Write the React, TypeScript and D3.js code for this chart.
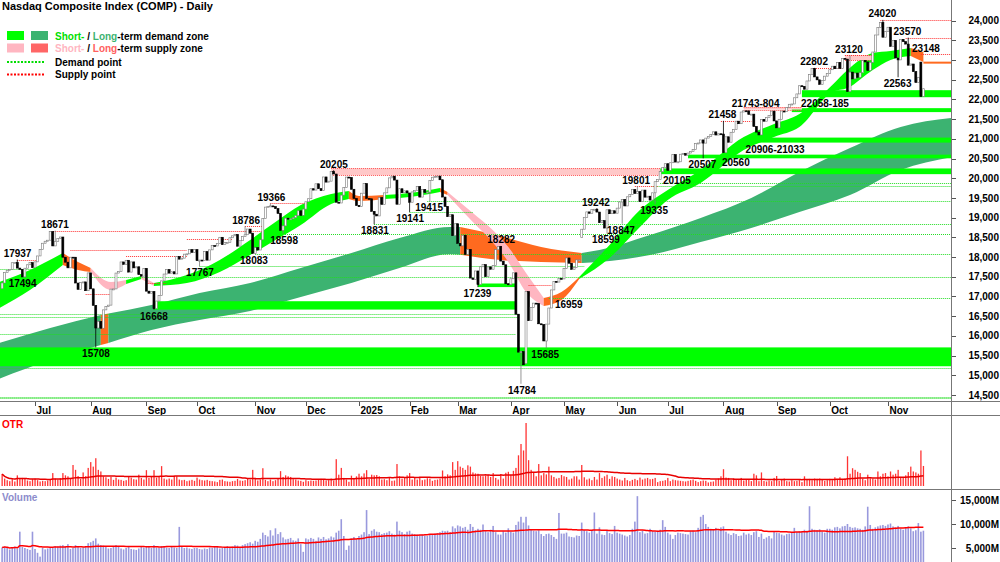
import React from 'react';
import * as d3 from 'd3';

// daily closes, 11 Jun 2024 .. 21 Nov 2025 (index 0 = 11 Jun 2024)
const closes: number[] = [
  17343, 17608, 17667, 17689, 17857, 17862, 17721, 17689, 17497, 17718, 17805, 17859, 17733,
  17879, 18029, 18188, 18352, 18403, 18429, 18647, 18283, 18398, 18473, 18510, 17997, 17871, 17727, 17998, 17997, 17342, 17182, 17358, 17370, 17147, 17599,
  17194, 16776, 16200, 16366, 16195, 16660, 16745, 16781, 17188, 17192, 17595, 17631, 17877, 17817, 17919, 17619, 17878, 17726, 17754, 17556, 17516, 17714,
  17136, 17084, 17128, 16691, 16885, 17026, 17396, 17570, 17684, 17593, 17628, 17573, 18014, 17948, 17974, 18075, 18082, 18190, 18120, 18189,
  17910, 17925, 17918, 18138, 17923, 18183, 18292, 18282, 18343, 18503, 18316, 18367, 18374, 18490, 18540, 18573, 18277, 18415, 18519, 18567, 18712, 18607, 18095,
  18239, 18180, 18439, 18983, 19269, 19287, 19299, 19282, 19231, 19108, 18680, 18792, 18988, 18966, 18972, 19004, 19055, 19175, 19060, 19218,
  19404, 19481, 19735, 19701, 19860, 19737, 19687, 20034, 19903, 19927, 20174, 20109, 19393, 19373, 19573, 19765, 20031, 20020, 19722, 19487, 19311,
  19280, 19622, 19865, 19490, 19479, 19162, 19088, 19044, 19511, 19339, 19630, 19757, 20010, 20054, 19955, 19342, 19734, 19633, 19681, 19627,
  19392, 19654, 19692, 19791, 19523, 19715, 19643, 19650, 19945, 20027, 20041, 20056, 19962, 19524, 19287, 19026, 19075, 18544, 18847,
  18350, 18285, 18553, 18070, 18196, 17468, 17436, 17648, 17303, 17754, 17808, 17504, 17751, 17692, 17784, 18189, 18272, 17899, 17804, 17323, 17299,
  17450, 17601, 16551, 15588, 15603, 15268, 17125, 16387, 16724, 16832, 16823, 16307, 16287, 15871, 16300, 16708, 17166, 17383, 17366, 17461, 17446,
  17711, 17978, 17844, 17690, 17738, 17929, 17929, 18708, 19010, 19147, 19112, 19211, 19215, 19143, 18873, 18926, 18737, 19200, 19101, 19176, 19114,
  19243, 19399, 19461, 19298, 19530, 19591, 19715, 19615, 19662, 19407, 19701, 19521, 19546, 19447, 19631, 19913, 19974, 20168, 20273, 20370,
  20203, 20394, 20601, 20412, 20418, 20611, 20630, 20586, 20641, 20678, 20730, 20885, 20896, 20974, 20893, 21020, 21058, 21108, 21179, 21098, 21130, 21122,
  20650, 21053, 20916, 21169, 21243, 21450, 21385, 21682, 21713, 21711, 21623, 21629, 21315, 21172, 21100, 21496, 21449, 21544, 21590, 21705, 21456,
  21280, 21498, 21707, 21700, 21799, 21879, 21886, 22043, 22141, 22349, 22333, 22261, 22470, 22631, 22789, 22573, 22498, 22385, 22484, 22592, 22660,
  22755, 22845, 22781, 22942, 22789, 23044, 23025, 22204, 22695, 22522, 22671, 22563, 22680, 22991, 22953, 22740, 22942, 23205, 23637, 23827, 23958, 23581, 23725,
  23834, 23349, 23500, 23054, 23005, 23527, 23469, 23406, 22871, 22901, 22708, 22432, 22564, 22078, 22273,
];
const firstOpen = 17200;
// [bar, open] where the session did not open at the prior close
const gapOpens: [number, number][] = [[363, 22950], [229, 18500], [207, 15300]];

// daily true range, points
const otr: number[] = [
  370, 230, 180, 150, 210, 140, 330, 220, 250, 240, 170, 150, 210,
  230, 180, 140, 160, 150, 170, 190, 400, 230, 200, 240, 400, 330, 300, 250, 650, 500, 310, 220, 420, 300, 560,
  740, 600, 860, 500, 450, 300, 270, 220, 280, 190, 260, 200, 190, 160, 180, 300, 260, 210, 200, 350, 250, 200,
  490, 250, 300, 490, 260, 280, 615, 230, 200, 230, 200, 320, 300, 200, 180, 190, 150, 170, 190, 160,
  260, 200, 180, 170, 190, 160, 150, 140, 120, 190, 200, 150, 140, 130, 150, 160, 220, 170, 160, 180, 220, 200, 500,
  250, 170, 200, 550, 190, 150, 200, 150, 180, 230, 460, 280, 330, 300, 280, 210, 200, 170, 160, 130,
  180, 150, 170, 160, 170, 210, 220, 200, 170, 180, 230, 170, 830, 350, 560, 250, 200, 130, 320, 250, 300,
  380, 300, 390, 490, 220, 350, 330, 340, 300, 200, 210, 180, 250, 160, 170, 680, 300, 230, 250, 330,
  400, 200, 250, 200, 280, 180, 200, 240, 230, 160, 190, 200, 230, 480, 300, 360, 330, 740, 500,
  770, 600, 560, 500, 640, 600, 420, 390, 380, 310, 300, 330, 350, 280, 400, 250, 200, 370, 230, 410, 440,
  340, 470, 560, 950, 1300, 1100, 1950, 800, 500, 420, 300, 680, 330, 400, 360, 600, 330, 280, 230, 250, 340,
  300, 280, 200, 230, 300, 300, 200, 650, 270, 200, 230, 180, 280, 200, 400, 250, 300, 350, 220, 300, 280,
  230, 200, 170, 250, 180, 150, 190, 220, 180, 260, 200, 230, 250, 210, 220, 250, 120, 150, 160, 180,
  250, 150, 200, 180, 170, 160, 150, 140, 160, 180, 200, 160, 120, 150, 170, 160, 110, 130, 140, 200, 230, 300,
  520, 260, 250, 180, 240, 200, 200, 250, 170, 200, 190, 150, 380, 330, 150, 420, 160, 140, 170, 150, 250,
  310, 160, 200, 230, 150, 140, 180, 150, 160, 180, 120, 300, 200, 220, 180, 230, 220, 230, 200, 160, 180,
  220, 180, 270, 200, 270, 200, 230, 920, 380, 550, 500, 440, 400, 230, 180, 350, 240, 230, 200, 450, 300, 380, 400,
  300, 450, 350, 380, 500, 280, 250, 330, 430, 600, 450, 420, 380, 1100, 620,
];

// volume, millions of shares
const volume: number[] = [
  5100, 5300, 5000, 4700, 5200, 5300, 4900, 8400, 5200, 5000, 4800, 4600, 8400,
  4800, 4000, 3200, 5000, 4700, 4900, 5100, 5200, 5400, 5300, 5500, 5600, 5400, 5800, 4800, 5000, 5600, 5400, 5000, 5100, 5300, 6000,
  6200, 6500, 7000, 5900, 5600, 5500, 5200, 4900, 5000, 5300, 5600, 5400, 4900, 4700, 5000, 5200, 4800, 4700, 4600, 4900, 5300, 5100,
  5400, 5200, 5000, 5600, 5100, 5000, 5400, 5200, 5100, 5000, 5200, 5100, 5000, 9400, 5200, 5000, 5100, 4900, 4800, 5000,
  5000, 4800, 4700, 4900, 4800, 5100, 5000, 5200, 5300, 4900, 5100, 5000, 5400, 5100, 5300, 5600, 5500, 5200, 5600, 5800, 6000, 6200, 5900,
  6500, 6300, 6900, 8200, 7700, 7400, 8700, 7600, 9100, 7900, 8300, 7200, 6800, 6900, 7100, 6600, 6500, 7000, 5800, 4200,
  7000, 6800, 7100, 6900, 6500, 7200, 6900, 7300, 6800, 7000, 7400, 7200, 8200, 8600, 11000, 7500, 4600, 5500, 7000, 7300, 6800,
  7500, 7800, 8300, 12900, 7900, 8600, 8900, 8400, 8300, 7900, 8100, 8200, 8500, 8000, 7800, 10500, 8600, 8300, 7900, 8400,
  8600, 8000, 7900, 7800, 7700, 7800, 7600, 7500, 7900, 7700, 8000, 8100, 8300, 8600, 8500, 8600, 8300, 9500, 9100,
  9700, 9500, 9200, 9400, 8800, 10000, 9400, 8700, 9000, 8800, 9900, 8500, 8300, 8800, 9600, 8300, 7800, 7800, 8500, 8200, 9100,
  8400, 8200, 9800, 10500, 11500, 10300, 11500, 9700, 8900, 8600, 8500, 8700, 7900, 7500, 7900, 8000, 7700, 7300, 6900, 12300, 8000,
  8000, 8200, 7400, 7300, 7200, 7600, 7500, 10300, 8700, 8500, 8200, 8600, 12400, 8000, 9300, 7800, 7700, 8600, 8100, 7900, 9600,
  8200, 8000, 7800, 7600, 7400, 7700, 9000, 10500, 15800, 8300, 8600, 8000, 8100, 9000, 8500, 8400, 8600, 8800, 10800, 9400,
  8200, 7800, 6900, 7700, 8200, 8100, 8000, 7900, 7800, 8500, 8600, 8300, 9200, 11500, 11900, 10000, 9400, 9000, 8800, 9200, 8700, 9300,
  9500, 8400, 8000, 7700, 8100, 7900, 7500, 7600, 8200, 7800, 8000, 7700, 8300, 8500, 7300, 8000, 6900, 7200, 7500, 7000, 8400,
  8200, 8100, 7800, 7600, 7900, 8000, 8200, 9200, 8300, 8500, 8400, 8800, 8600, 13700, 9000, 8800, 8700, 8900, 8400, 8200, 9000,
  9000, 8800, 9300, 9400, 9100, 9500, 9600, 10000, 9400, 9200, 9300, 9100, 9000, 8800, 9500, 13600, 9800, 9000, 9300, 9500, 9700, 9800, 9600,
  9900, 10100, 9500, 9300, 9600, 9000, 8800, 9200, 9500, 9100, 8500, 8700, 10200, 8400, 8600,
];

const monthLabels = ['Jul', 'Aug', 'Sep', 'Oct', 'Nov', 'Dec', '2025', 'Feb', 'Mar', 'Apr', 'May', 'Jun', 'Jul', 'Aug', 'Sep', 'Oct', 'Nov'];
const monthFirstBar = [13, 35, 57, 77, 100, 120, 141, 161, 180, 201, 222, 243, 263, 285, 306, 327, 350];
const priceTicks = [24000, 23500, 23000, 22500, 22000, 21500, 21000, 20500, 20000, 19500, 19000, 18500, 18000, 17500, 17000, 16500, 16000, 15500, 15000, 14500];
const volTicks = [15000, 10000, 5000];

// ribbons: [bar, upper, lower, state]  g = demand, p = short supply, o = supply
const shortRibbon: [number, number, number, string][] = [
  [-1, 17368, 16708, 'g'], [11, 17673, 17165, 'g'], [24, 18104, 17800, 'o'], [30, 17876, 17673, 'o'],
  [35, 17724, 17622, 'p'], [43, 17368, 17165, 'p'], [49, 17419, 17317, 'g'], [55, 17520, 17444, 'p'],
  [60, 17343, 17267, 'g'], [73, 17546, 17343, 'g'], [86, 17927, 17622, 'g'], [98, 18434, 18054, 'g'],
  [108, 18891, 18434, 'g'], [118, 19322, 18815, 'g'], [130, 19602, 19348, 'g'], [137, 19678, 19475, 'o'],
  [141, 19551, 19424, 'o'], [151, 19576, 19475, 'g'], [161, 19627, 19526, 'g'], [173, 19754, 19653, 'o'],
  [176, 19653, 19576, 'p'], [186, 19120, 18891, 'p'], [193, 18739, 18434, 'p'], [200, 18257, 17876, 'p'],
  [207, 17597, 17114, 'p'], [214, 16962, 16759, 'o'], [221, 17114, 16911, 'o'], [228, 17495, 17444, 'g'],
  [240, 18307, 17978, 'g'], [252, 19195, 18764, 'g'], [263, 19703, 19449, 'g'], [276, 20211, 19881, 'g'],
  [293, 21048, 20718, 'g'], [305, 21378, 21048, 'g'], [315, 21632, 21302, 'g'], [328, 22368, 22190, 'g'],
  [334, 22749, 22292, 'g'], [344, 23180, 22749, 'g'], [351, 23231, 23003, 'g'], [359, 23307, 23104, 'o'],
  [364, 23206, 22952, 'o'],
];
const longRibbon: [number, number, number, string][] = [
  [-1, 15820, 14916, 'g'], [19, 16200, 15388, 'g'], [39, 16531, 15769, 'o'], [42, 16570, 15820, 'g'],
  [59, 16784, 16150, 'g'], [78, 17089, 16404, 'g'], [98, 17343, 16632, 'g'], [118, 17724, 16988, 'g'],
  [138, 18104, 17343, 'g'], [157, 18485, 17724, 'g'], [177, 18764, 18079, 'g'], [181, 18764, 18060, 'o'],
  [197, 18536, 17927, 'o'], [213, 18257, 17876, 'o'], [229, 18104, 17851, 'g'], [236, 18180, 17876, 'g'],
  [256, 18561, 18054, 'g'], [276, 18993, 18384, 'g'], [296, 19500, 18739, 'g'], [315, 20160, 19145, 'g'],
  [335, 20769, 19576, 'g'], [355, 21302, 20211, 'g'], [375.3, 21530, 20541, 'g'],
];

const END = 375.3;
// [fromBar, toBar, low, high]
const demandZones: [number, number, number, number][] = [
  [-1, END, 15230, 15708], [60, 203, 16668, 16880], [188, 203, 17239, 17330], [260, END, 20105, 20250],
  [271, END, 20507, 20600], [299, END, 20906, 21033], [312, END, 21680, 21780], [316, END, 22058, 22236],
];
const supplyZones: [number, number, number, number][] = [
  [130, 260, 20080, 20250], [293, 316, 21743, 21804], [333, 344, 23000, 23120],
];
// [fromBar, toBar, price]
const demandPoints: [number, number, number][] = [
  [-1, END, 14420], [-1, END, 14455], [-1, END, 15180], [-1, 203, 16050], [-1, 204, 16480], [-1, 204, 16555],
  [-1, 13, 17700], [8, END, 17494], [78, 230, 17767], [100, END, 18083], [111, END, 18598], [147, END, 18831],
  [161, 186, 19141], [168, END, 19415], [216, END, 16959], [257, END, 19805], [260, END, 19880],
];
const supplyPoints: [number, number, number][] = [
  [6, 14, 17937], [20, 103, 18671], [27, 73, 18190], [49, 73, 18020], [33, 43, 17060], [57, 65, 17340],
  [73, 91, 18460], [96, 103, 18786], [106, 121, 19366], [208, 217, 17290], [250, 259, 19801], [284, 296, 21458],
  [320, 332, 22802], [333, 345, 23120], [347, END, 24020], [357, END, 23570], [363, END, 23148],
];
const supplyProjection: [number, number, number] = [364, END, 22935];

// [bar, price, text, placement]  a = above, b = below, r = right
const labels: [number, number, string, string][] = [
  [6.1, 17937, '17937', 'a'], [8.1, 17494, '17494', 'b'], [20.9, 18671, '18671', 'a'], [37.1, 15708, '15708', 'b'],
  [60, 16668, '16668', 'b'], [78.2, 17767, '17767', 'b'], [96.4, 18786, '18786', 'a'], [99.5, 18083, '18083', 'b'],
  [106.4, 19366, '19366', 'a'], [111.4, 18598, '18598', 'b'], [131.1, 20205, '20205', 'a'], [147.3, 18831, '18831', 'b'],
  [161.2, 19141, '19141', 'b'], [168.7, 19415, '19415', 'b'], [187.8, 17239, '17239', 'b'], [197.2, 18282, '18282', 'a'],
  [205.4, 14784, '14784', 'b'], [214.6, 15685, '15685', 'b'], [218.4, 16959, '16959', 'r'], [234.6, 19242, '19242', 'a'],
  [238.6, 18599, '18599', 'b'], [244.5, 18847, '18847', 'b'], [250.5, 19801, '19801', 'a'], [257.6, 19335, '19335', 'b'],
  [261.1, 20105, '20105', 'r'], [276.7, 20507, '20507', 'b'], [284.6, 21458, '21458', 'a'], [284.4, 20560, '20560', 'r'],
  [297.7, 21743, '21743-804', 'a'], [305.4, 20906, '20906-21033', 'b'], [320.8, 22802, '22802', 'a'], [325.1, 22058, '22058-185', 'b'],
  [334.6, 23120, '23120', 'a'], [347.8, 24020, '24020', 'a'], [353.8, 22563, '22563', 'b'], [357.7, 23570, '23570', 'a'],
  [365, 23148, '23148', 'a'],
];

const FONT = "'Liberation Sans', Arial, Helvetica, sans-serif";
const shortColors: Record<string, string> = { g: '#00FF00', p: '#FFB6C1', o: '#FF6A1F' };
const longColors: Record<string, string> = { g: '#3CB371', o: '#FF6A1F' };

function movingAvg(vals: number[], n: number) {
  return vals.map((_, i) => d3.mean(vals.slice(Math.max(0, i - n + 1), i + 1)) as number);
}

export default function App() {
  const x = d3.scaleLinear().domain([-0.83, END]).range([0, 952]);
  const y = d3.scaleLinear().domain([14373, 24525]).range([400, 0]);
  const yOtr = d3.scaleLinear().domain([0, 1950]).range([486, 423]);
  const yVol = d3.scaleLinear().domain([0, 15000]).range([572, 500]);
  const py = (p: number) => Math.round(y(p)) + 0.5;

  const gap = new Map(gapOpens);
  const bars = closes.map((c, i) => {
    const o = gap.get(i) ?? (i === 0 ? firstOpen : closes[i - 1]);
    return { i, o, c, h: Math.max(o, c), l: Math.min(o, c) };
  });
  labels.forEach(([b, p, t, pos]) => {
    if (!/^\d+$/.test(t)) return;
    const bar = bars[Math.round(b)];
    if (!bar) return;
    if (pos === 'a') bar.h = Math.max(bar.h, p);
    if (pos === 'b') bar.l = Math.min(bar.l, p);
  });

  const area = d3.area<[number, number, number, string]>()
    .x(d => x(d[0])).y0(d => y(d[2])).y1(d => y(d[1])).curve(d3.curveMonotoneX);
  const ribbon = (pts: [number, number, number, string][], colors: Record<string, string>) => {
    const out: { d: string; fill: string }[] = [];
    let start = 0;
    for (let k = 1; k < pts.length; k++) {
      if (pts[k][3] !== pts[start][3] || k === pts.length - 1) {
        out.push({ d: area(pts.slice(start, k + 1)) || '', fill: colors[pts[start][3]] });
        start = k;
      }
    }
    return out;
  };

  const otrMa = movingAvg(otr, 60);
  const volMa = movingAvg(volume, 50);
  const maLine = (ys: (v: number) => number) =>
    d3.line<number>().x((_, i) => x(i)).y(v => ys(v)).curve(d3.curveMonotoneX);

  return (
    <svg width={1000} height={562} style={{ position: 'absolute', left: 0, top: 0, background: '#fff' }} fontFamily={FONT}>
      <defs>
        <clipPath id="pricePlot"><rect x={0} y={0} width={951} height={401} /></clipPath>
        <clipPath id="volPlot"><rect x={0} y={490} width={951} height={72} /></clipPath>
      </defs>

      <g clipPath="url(#pricePlot)">
        {ribbon(longRibbon, longColors).map((s, k) => <path key={'l' + k} d={s.d} fill={s.fill} />)}
        {ribbon(shortRibbon, shortColors).map((s, k) => <path key={'s' + k} d={s.d} fill={s.fill} />)}

        {demandZones.map(([a, b, lo, hi], k) => (
          <rect key={'dz' + k} x={x(a)} width={x(b) - x(a)} y={y(hi)} height={y(lo) - y(hi)} fill="#00FF00" />
        ))}
        {supplyZones.map(([a, b, lo, hi], k) => (
          <g key={'sz' + k}>
            <rect x={x(a)} width={x(b) - x(a)} y={y(hi)} height={y(lo) - y(hi)} fill="#FFC8C8" />
            <line x1={x(a)} x2={x(b)} y1={py(hi)} y2={py(hi)} stroke="#FF5050" strokeDasharray="1 1" />
            <line x1={x(a)} x2={x(b)} y1={py(lo)} y2={py(lo)} stroke="#FF5050" strokeDasharray="1 1" />
          </g>
        ))}

        {demandPoints.map(([a, b, p], k) => (
          <line key={'dp' + k} x1={x(a)} x2={x(b)} y1={py(p)} y2={py(p)} stroke="#22DD22" strokeDasharray="1 1" />
        ))}
        {supplyPoints.map(([a, b, p], k) => (
          <line key={'sp' + k} x1={x(a)} x2={x(b)} y1={py(p)} y2={py(p)} stroke="#FF3030" strokeDasharray="1 1" />
        ))}
        <line x1={x(supplyProjection[0])} x2={x(supplyProjection[1])} y1={y(supplyProjection[2])} y2={y(supplyProjection[2])}
          stroke="#FF6A1F" strokeWidth={2} />

        {bars.map(b => {
          const cx = x(b.i);
          const up = b.c >= b.o;
          const top = y(Math.max(b.o, b.c));
          const hgt = Math.max(1, y(Math.min(b.o, b.c)) - top);
          return (
            <g key={'c' + b.i}>
              <line x1={cx} x2={cx} y1={y(b.h)} y2={y(b.l)} stroke={up ? '#7a7a7a' : '#000'} strokeWidth={0.8} />
              <rect x={cx - 1} y={top} width={2} height={hgt}
                fill={up ? '#fff' : '#000'} stroke={up ? '#7a7a7a' : '#000'} strokeWidth={0.6} />
            </g>
          );
        })}

        {labels.map(([b, p, t, pos], k) => {
          const lx = x(b);
          const ly = pos === 'a' ? y(p) - 2.5 : y(p) + 10;
          return (
            <text key={'lb' + k} x={lx} y={ly} textAnchor={pos === 'r' ? 'start' : 'middle'}
              fontSize={10} fontWeight="bold" fill="#000">{t}</text>
          );
        })}
      </g>

      {/* price axis */}
      {priceTicks.map(p => (
        <g key={'pt' + p}>
          <line x1={952} x2={956} y1={py(p)} y2={py(p)} stroke="#555" />
          <text x={999} y={y(p) + 3.6} textAnchor="end" fontSize={10} fontWeight="bold" fill="#000">{d3.format(',')(p)}</text>
        </g>
      ))}

      {/* time axis */}
      {monthFirstBar.map((b, k) => (
        <g key={'m' + k}>
          <line x1={Math.round(x(b)) + 0.5} x2={Math.round(x(b)) + 0.5} y1={402} y2={406} stroke="#555" />
          <text x={x(b) + 1.5} y={413.5} fontSize={10} fontWeight="bold" fill="#000">{monthLabels[k]}</text>
        </g>
      ))}

      {/* OTR panel */}
      <text x={2} y={428} fontSize={10} fontWeight="bold" fill="#FF0000">OTR</text>
      {otr.map((v, i) => (
        <rect key={'o' + i} x={x(i) - 0.6} width={1.3} y={yOtr(v)} height={486 - yOtr(v)} fill="#FF3333" />
      ))}
      <path d={maLine(yOtr)(otrMa) || ''} fill="none" stroke="#E80000" strokeWidth={1.5} />

      {/* Volume panel */}
      <text x={2} y={501} fontSize={10} fontWeight="bold" fill="#8C8CCC">Volume</text>
      <g clipPath="url(#volPlot)">
        {volume.map((v, i) => (
          <rect key={'v' + i} x={x(i) - 0.8} width={1.6} y={yVol(v)} height={572 - yVol(v)} fill="#9999DD" />
        ))}
        <path d={maLine(yVol)(volMa) || ''} fill="none" stroke="#FF0000" strokeWidth={1.5} />
      </g>
      {volTicks.map(v => (
        <g key={'vt' + v}>
          <line x1={952} x2={956} y1={Math.round(yVol(v)) + 0.5} y2={Math.round(yVol(v)) + 0.5} stroke="#555" />
          <text x={999} y={yVol(v) + 3.6} textAnchor="end" fontSize={10} fontWeight="bold" fill="#000">{d3.format(',')(v)}M</text>
        </g>
      ))}

      {/* frame */}
      <line x1={0} x2={1000} y1={401.5} y2={401.5} stroke="#777" />
      <line x1={0} x2={1000} y1={415.5} y2={415.5} stroke="#777" />
      <line x1={0} x2={1000} y1={489.5} y2={489.5} stroke="#777" />
      <line x1={951.5} x2={951.5} y1={0} y2={562} stroke="#777" />

      {/* title + legend */}
      <text x={2} y={10} fontSize={11} fontWeight="bold" fill="#000">Nasdaq Composite Index (COMP) - Daily</text>
      <rect x={7} y={31} width={17} height={9} fill="#00FF00" />
      <rect x={31} y={31} width={17} height={9} fill="#3CB371" />
      <text x={55} y={39.5} fontSize={10} fontWeight="bold" fill="#000">
        <tspan fill="#00E000">Short-</tspan> / <tspan fill="#3CB371">Long</tspan>-term demand zone
      </text>
      <rect x={7} y={43.5} width={17} height={9} fill="#FFB6C1" />
      <rect x={31} y={43.5} width={17} height={9} fill="#FF6666" />
      <text x={55} y={52} fontSize={10} fontWeight="bold" fill="#000">
        <tspan fill="#FFB6C1">Short-</tspan> / <tspan fill="#FF6060">Long</tspan>-term supply zone
      </text>
      <line x1={7} x2={45} y1={62} y2={62} stroke="#00DD00" strokeWidth={2} strokeDasharray="2 1.5" />
      <text x={55} y={65.5} fontSize={10} fontWeight="bold" fill="#000">Demand point</text>
      <line x1={7} x2={45} y1={74.5} y2={74.5} stroke="#FF0000" strokeWidth={2} strokeDasharray="2 1.5" />
      <text x={55} y={78} fontSize={10} fontWeight="bold" fill="#000">Supply point</text>
    </svg>
  );
}
